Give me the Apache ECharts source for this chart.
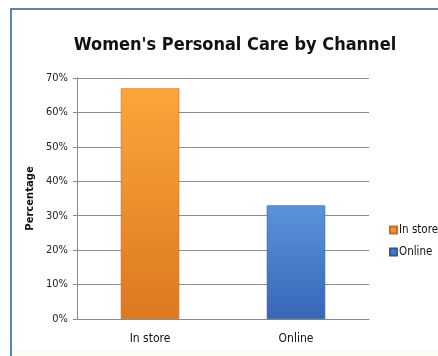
<!DOCTYPE html>
<html>
<head>
<meta charset="utf-8">
<script src="https://cdn.jsdelivr.net/npm/echarts@6/dist/echarts.min.js"></script>
<style>
  html, body { margin: 0; padding: 0; background: #fff; }
  #chart { width: 438px; height: 356px; }
</style>
</head>
<body>
<div id="chart"></div>
<script>
// Share of women's personal care purchases by channel
const channels = ['In store', 'Online'];
const shares = [67, 33];
const yTicks = [0, 10, 20, 30, 40, 50, 60, 70];

const FONT = '"DejaVu Sans Condensed", "Liberation Sans Narrow", sans-serif';

const barColors = {
  'In store': new echarts.graphic.LinearGradient(0, 0, 0, 1, [
    { offset: 0, color: '#fca53a' },
    { offset: 1, color: '#dd7820' }
  ]),
  'Online': new echarts.graphic.LinearGradient(0, 0, 0, 1, [
    { offset: 0, color: '#5c93da' },
    { offset: 1, color: '#3866b8' }
  ])
};
const legendColors = { 'In store': '#f3922f', 'Online': '#4579c8' };

const series = channels.map((name, i) => ({
  name,
  type: 'bar',
  stack: 'one',
  barWidth: '40%',
  data: channels.map((_, j) => (j === i ? shares[i] : '-')),
  itemStyle: {
    color: barColors[name],
    borderColor: i === 0 ? '#c96a1c' : '#2f5a9e',
    borderWidth: 0.6
  }
}));

const chart = echarts.init(document.getElementById('chart'), null, { renderer: 'canvas' });
chart.setOption({
  animation: false,
  backgroundColor: '#ffffff',
  title: {
    text: "Women's Personal Care by Channel",
    left: 230,
    textAlign: 'center',
    top: 31,
    textStyle: { fontFamily: FONT, fontSize: 18, fontWeight: 'bold', color: '#111' }
  },
  graphic: [
    { type: 'line', shape: { x1: 10, y1: 9, x2: 438, y2: 9 }, style: { stroke: '#5a86ae', lineWidth: 2 } },
    { type: 'line', shape: { x1: 11, y1: 8, x2: 11, y2: 356 }, style: { stroke: '#5a86ae', lineWidth: 2 } },
    { type: 'rect', shape: { x: 12, y: 350, width: 426, height: 6 }, style: { fill: '#fbfdf3' } }
  ],
  legend: {
    orient: 'vertical',
    left: 384,
    top: 219,
    itemWidth: 7,
    itemHeight: 7,
    itemGap: 10,
    icon: 'rect',
    data: channels.map(n => ({ name: n, itemStyle: { color: legendColors[n] } })),
    textStyle: { fontFamily: FONT, fontSize: 11.5, color: '#111', padding: [0, 0, 0, -3] }
  },
  grid: { left: 77, right: 69, top: 78, bottom: 37, containLabel: false },
  xAxis: {
    type: 'category',
    data: channels,
    axisLine: { lineStyle: { color: '#8a8a8a', width: 1 } },
    axisTick: { show: false },
    axisLabel: { fontFamily: FONT, fontSize: 12, color: '#111', margin: 14 }
  },
  yAxis: {
    type: 'value',
    min: 0,
    max: yTicks[yTicks.length - 1],
    interval: 10,
    name: 'Percentage',
    nameLocation: 'middle',
    nameGap: 40,
    nameTextStyle: { fontFamily: '"DejaVu Sans", sans-serif', fontSize: 10, fontWeight: 'bold', color: '#111' },
    axisLine: { show: true, lineStyle: { color: '#8a8a8a' } },
    axisTick: { show: true, length: 4, lineStyle: { color: '#8a8a8a' } },
    axisLabel: { fontFamily: FONT, fontSize: 11, color: '#222', margin: 9, formatter: v => v + '%' },
    splitLine: { lineStyle: { color: '#8c8c8c', width: 1 } }
  },
  series
});
</script>
</body>
</html>
